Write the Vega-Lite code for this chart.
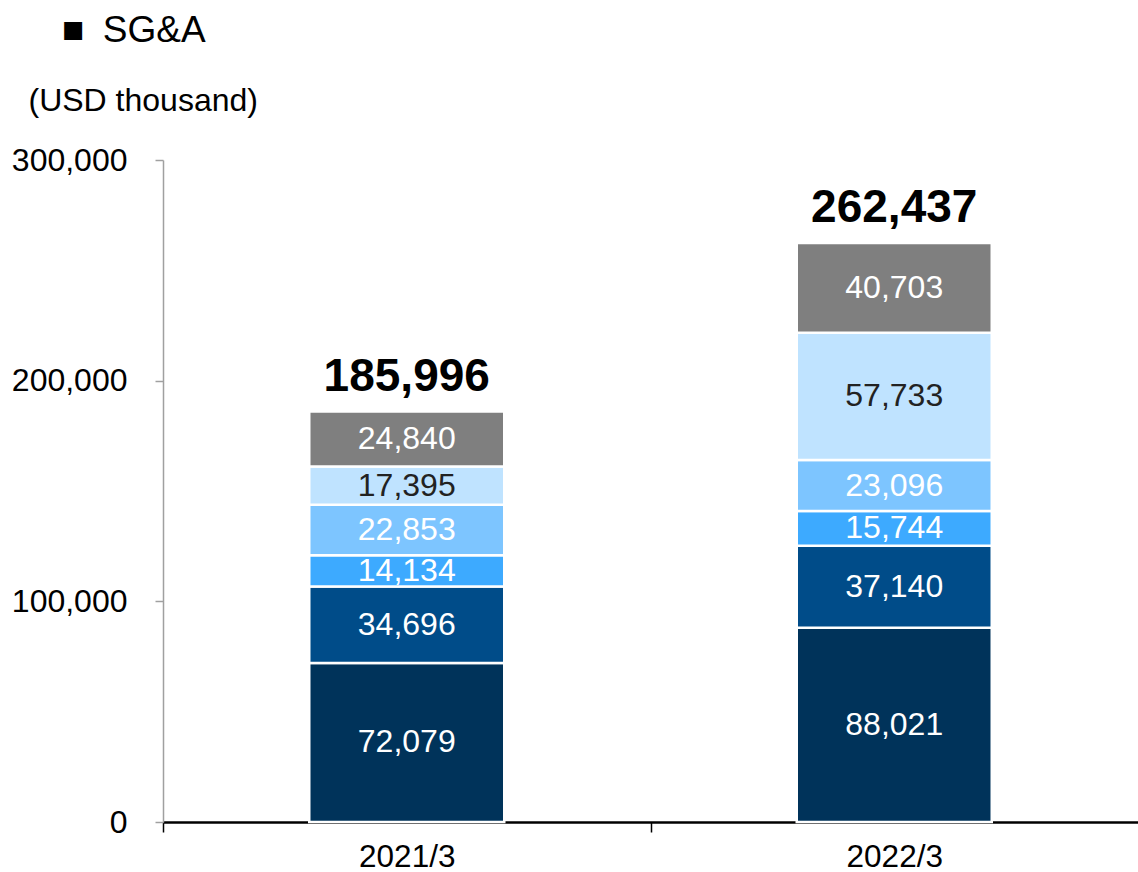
{
  "$schema": "https://vega.github.io/schema/vega-lite/v6.json",
  "autosize": "none",
  "width": 975,
  "height": 662,
  "padding": {"left": 163, "top": 160, "right": 0, "bottom": 50},
  "background": "white",
  "config": {"font": "Liberation Sans", "view": {"stroke": null}},
  "title": {"text": "■\u2002SG&A", "anchor": "start", "frame": "group", "fontSize": 37, "fontWeight": "normal", "color": "black", "dx": -101, "offset": 34},
  "datasets": {
    "segments": [
      {"period": "2021/3", "item": "seg1", "rank": 1, "value": 72079},
      {"period": "2021/3", "item": "seg2", "rank": 2, "value": 34696},
      {"period": "2021/3", "item": "seg3", "rank": 3, "value": 14134},
      {"period": "2021/3", "item": "seg4", "rank": 4, "value": 22853},
      {"period": "2021/3", "item": "seg5", "rank": 5, "value": 17395},
      {"period": "2021/3", "item": "seg6", "rank": 6, "value": 24840},
      {"period": "2022/3", "item": "seg1", "rank": 1, "value": 88021},
      {"period": "2022/3", "item": "seg2", "rank": 2, "value": 37140},
      {"period": "2022/3", "item": "seg3", "rank": 3, "value": 15744},
      {"period": "2022/3", "item": "seg4", "rank": 4, "value": 23096},
      {"period": "2022/3", "item": "seg5", "rank": 5, "value": 57733},
      {"period": "2022/3", "item": "seg6", "rank": 6, "value": 40703}
    ],
    "totals": [
      {"period": "2021/3", "total": 185996},
      {"period": "2022/3", "total": 262437}
    ]
  },
  "layer": [
    {
      "data": {"name": "segments"},
      "mark": {"type": "bar", "stroke": "white", "strokeWidth": 2.5},
      "encoding": {
        "x": {
          "field": "period", "type": "nominal", "sort": null,
          "scale": {"paddingInner": 0.6, "paddingOuter": 0.3},
          "axis": {
            "title": null, "labelAngle": 0, "labelFontSize": 31.5, "labelColor": "black",
            "domainColor": "black", "domainWidth": 2.5, "tickColor": "black", "tickWidth": 1.5,
            "tickSize": 10, "tickOffset": -243.75, "labelOffset": 243.75, "labelPadding": 9
          }
        },
        "y": {
          "field": "value", "type": "quantitative", "stack": "zero",
          "scale": {"domain": [0, 300000], "nice": false},
          "axis": {
            "values": [0, 100000, 200000, 300000], "format": ",.0f", "grid": false,
            "labelFontSize": 32, "labelColor": "black", "labelPadding": 28,
            "domainColor": "#A0A0A0", "domainWidth": 1.5, "tickColor": "#A0A0A0", "tickWidth": 1.5, "tickSize": 8,
            "title": "(USD thousand)", "titleAngle": 0, "titleAlign": "left", "titleBaseline": "middle",
            "titleX": -135, "titleY": -60, "titleFontSize": 32, "titleFontWeight": "normal", "titleColor": "black"
          }
        },
        "order": {"field": "rank", "type": "quantitative", "sort": "ascending"},
        "color": {
          "field": "item", "type": "nominal", "legend": null,
          "scale": {
            "domain": ["seg1", "seg2", "seg3", "seg4", "seg5", "seg6"],
            "range": ["#00335A", "#004C89", "#3DAAFF", "#7DC5FF", "#BFE3FF", "#7F7F7F"]
          }
        }
      }
    },
    {
      "data": {"name": "segments"},
      "mark": {"type": "text", "fontSize": 32, "baseline": "middle", "align": "center"},
      "encoding": {
        "x": {"field": "period", "type": "nominal", "sort": null},
        "y": {"field": "value", "type": "quantitative", "stack": "zero", "bandPosition": 0.5},
        "order": {"field": "rank", "type": "quantitative", "sort": "ascending"},
        "text": {"field": "value", "type": "quantitative", "format": ","},
        "color": {"condition": {"test": "datum.item === 'seg5'", "value": "#222222"}, "value": "white"}
      }
    },
    {
      "data": {"name": "totals"},
      "mark": {"type": "text", "fontSize": 46, "fontWeight": "bold", "baseline": "alphabetic", "align": "center", "dy": -21, "color": "black"},
      "encoding": {
        "x": {"field": "period", "type": "nominal", "sort": null},
        "y": {"field": "total", "type": "quantitative"},
        "text": {"field": "total", "type": "quantitative", "format": ","}
      }
    }
  ]
}
